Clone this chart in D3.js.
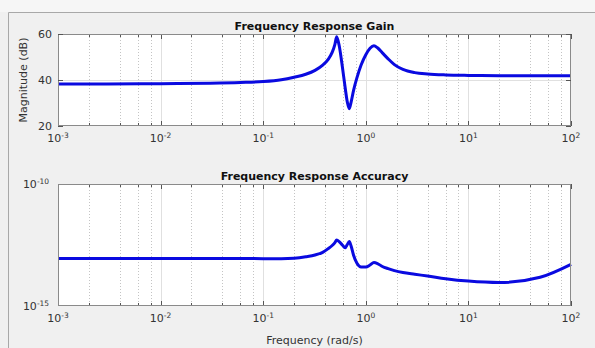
<!DOCTYPE html>
<html>
<head>
<meta charset="utf-8">
<script src="https://cdn.jsdelivr.net/npm/d3@7/dist/d3.min.js"></script>
<style>
  html, body { margin: 0; padding: 0; background: #f0f0f0; }
  svg { display: block; font-family: "DejaVu Sans", "Liberation Sans", sans-serif; }
</style>
</head>
<body>
<svg id="chart" width="595" height="348"></svg>
<script>
// Frequency grid (rad/s) shared by both panels
const freq = [0.001, 0.003, 0.01, 0.03, 0.06, 0.1, 0.15, 0.2, 0.26, 0.32, 0.38, 0.43, 0.47, 0.5, 0.52, 0.55, 0.59, 0.63, 0.66, 0.69, 0.72, 0.76, 0.82, 0.9, 1.0, 1.1, 1.2, 1.3, 1.45, 1.65, 1.9, 2.3, 3.0, 4.0, 6.0, 10, 20, 50, 100];

// Gain in dB
const gainDb = [38.3, 38.3, 38.4, 38.6, 38.9, 39.3, 40.1, 41.2, 42.5, 44.2, 46.5, 49.0, 52.0, 55.5, 58.8, 55.0, 46.0, 36.5, 30.5, 27.5, 30.5, 35.5, 41.0, 46.5, 51.0, 53.8, 54.9, 54.0, 51.8, 49.2, 46.7, 44.6, 43.2, 42.6, 42.2, 42.0, 41.9, 41.8, 41.8];

// Accuracy (log10 of the error)
const accLog = [-13.05, -13.05, -13.05, -13.05, -13.05, -13.06, -13.06, -13.04, -12.98, -12.91, -12.80, -12.65, -12.52, -12.40, -12.30, -12.36, -12.50, -12.61, -12.48, -12.36, -12.55, -12.92, -13.25, -13.40, -13.40, -13.32, -13.22, -13.26, -13.38, -13.47, -13.55, -13.63, -13.70, -13.77, -13.88, -13.98, -14.04, -13.82, -13.29];

const xTicks = [1e-3, 1e-2, 1e-1, 1e0, 1e1, 1e2];
const xTickExp = ["-3", "-2", "-1", "0", "1", "2"];
const minorMult = [2, 4, 6, 8];
const gainTicks = [20, 40, 60];
const accTicks = [1e-15, 1e-10];
const accTickExp = ["-15", "-10"];

const svg = d3.select("#chart");

// Figure frame
svg.append("rect").attr("x", 0).attr("y", 0).attr("width", 595).attr("height", 12).attr("fill", "#f6f6f6");
svg.append("line").attr("x1", 8.5).attr("x2", 595).attr("y1", 12.5).attr("y2", 12.5).attr("stroke", "#a8a8a8");
svg.append("line").attr("x1", 8.5).attr("x2", 8.5).attr("y1", 12.5).attr("y2", 348).attr("stroke", "#a8a8a8");

const left = 58, right = 571;
const x = d3.scaleLog().domain([1e-3, 1e2]).range([left, right]);

function minorTicks() {
  const out = [];
  for (let e = -3; e < 2; e++) for (const m of minorMult) out.push(m * Math.pow(10, e));
  return out;
}

function supLabel(sel, exp) {
  sel.text("10");
  sel.append("tspan").attr("dy", "-0.55em").attr("font-size", "7.5px").text(exp);
}

function panel(top, bottom, y, values, title) {
  const g = svg.append("g");
  g.append("rect").attr("x", left).attr("y", top).attr("width", right - left).attr("height", bottom - top).attr("fill", "#ffffff");

  // minor vertical grid (dotted)
  g.selectAll("line.minor").data(minorTicks()).join("line")
    .attr("x1", d => Math.round(x(d)) + 0.5).attr("x2", d => Math.round(x(d)) + 0.5)
    .attr("y1", top).attr("y2", bottom)
    .attr("stroke", "#c4c4c4").attr("stroke-dasharray", "1,2");
  // major vertical grid
  g.selectAll("line.major").data(xTicks.slice(1, -1)).join("line")
    .attr("x1", d => Math.round(x(d)) + 0.5).attr("x2", d => Math.round(x(d)) + 0.5)
    .attr("y1", top).attr("y2", bottom)
    .attr("stroke", "#e0e0e0");

  // tick marks along top and bottom edges
  const allTicks = xTicks.concat(minorTicks());
  g.selectAll("line.tb").data(allTicks).join("line")
    .attr("x1", d => Math.round(x(d)) + 0.5).attr("x2", d => Math.round(x(d)) + 0.5)
    .attr("y1", bottom).attr("y2", d => bottom - (xTicks.includes(d) ? 5 : 3))
    .attr("stroke", "#555");
  g.selectAll("line.tt").data(allTicks).join("line")
    .attr("x1", d => Math.round(x(d)) + 0.5).attr("x2", d => Math.round(x(d)) + 0.5)
    .attr("y1", top).attr("y2", d => top + (xTicks.includes(d) ? 5 : 3))
    .attr("stroke", "#555");

  // curve
  const line = d3.line().x((d, i) => x(freq[i])).y(d => y(d)).curve(d3.curveMonotoneX);
  g.append("path").datum(values).attr("d", line)
    .attr("fill", "none").attr("stroke", "#0a0ae0").attr("stroke-width", 3).attr("stroke-linejoin", "round");

  // box
  g.append("rect").attr("x", left + 0.5).attr("y", top + 0.5).attr("width", right - left - 1).attr("height", bottom - top - 1)
    .attr("fill", "none").attr("stroke", "#8a8a8a");

  // x tick labels
  g.selectAll("text.xl").data(xTicks).join("text")
    .attr("x", d => x(d)).attr("y", bottom + 16)
    .attr("text-anchor", "middle").attr("font-size", "11px").attr("fill", "#333")
    .each(function (d, i) { supLabel(d3.select(this), xTickExp[i]); });

  // title
  svg.append("text").attr("x", (left + right) / 2).attr("y", top - 4)
    .attr("text-anchor", "middle").attr("font-size", "11px").attr("font-weight", "bold").attr("fill", "#111")
    .text(title);
  return g;
}

// Gain panel
const yGain = d3.scaleLinear().domain([20, 60]).range([126, 34]);
const g1 = panel(34, 126, yGain, gainDb, "Frequency Response Gain");
g1.insert("line", "path").attr("x1", left).attr("x2", right).attr("y1", Math.round(yGain(40)) + 0.5).attr("y2", Math.round(yGain(40)) + 0.5).attr("stroke", "#e0e0e0");
g1.selectAll("line.yt").data(gainTicks).join("line")
  .attr("x1", left).attr("x2", left + 5).attr("y1", d => Math.round(yGain(d)) + 0.5).attr("y2", d => Math.round(yGain(d)) + 0.5).attr("stroke", "#555");
g1.selectAll("line.yt2").data(gainTicks).join("line")
  .attr("x1", right - 5).attr("x2", right).attr("y1", d => Math.round(yGain(d)) + 0.5).attr("y2", d => Math.round(yGain(d)) + 0.5).attr("stroke", "#555");
g1.selectAll("text.yl").data(gainTicks).join("text")
  .attr("x", left - 6).attr("y", d => yGain(d) + 4).attr("text-anchor", "end").attr("font-size", "11px").attr("fill", "#333")
  .text(d => d);
svg.append("text").attr("transform", `translate(27,${(34 + 126) / 2}) rotate(-90)`)
  .attr("text-anchor", "middle").attr("font-size", "11px").attr("fill", "#333").text("Magnitude (dB)");

// Accuracy panel (log scale)
const yAcc = d3.scaleLog().domain([1e-15, 1e-10]).range([306, 184]);
const accVals = accLog.map(v => Math.pow(10, v));
const g2 = panel(184, 306, yAcc, accVals, "Frequency Response Accuracy");
g2.selectAll("text.yl").data(accTicks).join("text")
  .attr("x", left - 22).attr("y", d => yAcc(d) + 4).attr("text-anchor", "middle").attr("font-size", "11px").attr("fill", "#333")
  .each(function (d, i) { supLabel(d3.select(this), accTickExp[i]); });

svg.append("text").attr("x", (left + right) / 2).attr("y", 344)
  .attr("text-anchor", "middle").attr("font-size", "11px").attr("fill", "#333").text("Frequency (rad/s)");
</script>
</body>
</html>
